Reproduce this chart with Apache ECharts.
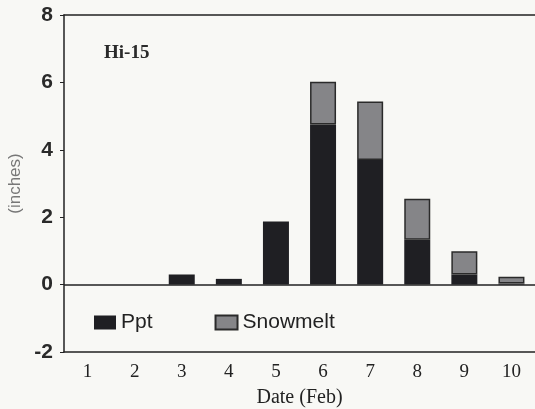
<!DOCTYPE html>
<html>
<head>
<meta charset="utf-8">
<script src="https://cdn.jsdelivr.net/npm/echarts@6/dist/echarts.min.js"></script>
<style>
  html, body { margin: 0; padding: 0; background: #f8f8f5; }
  #chart { width: 535px; height: 409px; }
</style>
</head>
<body>
<div id="chart"></div>
<script>
// values (inches), null = nothing drawn
const days = ['1', '2', '3', '4', '5', '6', '7', '8', '9', '10']
const ppt = [null, null, 0.3, 0.17, 1.87, 4.75, 3.7, 1.33, 0.3, 0.03]
const snowmelt = [null, null, null, null, null, 1.27, 1.73, 1.22, 0.69, 0.2]
const yTicks = { min: -2, max: 8, interval: 2 }

const chart = echarts.init(document.getElementById('chart'))

const option = {
  backgroundColor: '#f8f8f5',
  animation: false,
  grid: {
    left: 64,
    right: 0,
    top: 15,
    bottom: 57,
    outerBoundsMode: 'none'
  },
  legend: {
    data: ['Ppt', 'Snowmelt'],
    left: 89,
    top: 307,
    icon: 'rect',
    itemWidth: 22,
    itemHeight: 14,
    itemGap: 62,
    textStyle: {
      fontFamily: 'Liberation Sans',
      fontSize: 21,
      color: '#222'
    }
  },
  graphic: [
    {
      type: 'text',
      left: 104,
      top: 44,
      style: {
        text: 'Hi-15',
        font: 'bold 19px "Liberation Serif"',
        fill: '#2a2a2a'
      }
    }
  ],
  xAxis: [
    {
      type: 'category',
      data: days,
      position: 'bottom',
      name: 'Date (Feb)',
      nameLocation: 'middle',
      nameGap: 36,
      nameTextStyle: {
        fontFamily: 'Liberation Serif',
        fontSize: 20,
        color: '#222'
      },
      axisLine: { onZero: false, lineStyle: { color: '#222', width: 1.5 } },
      axisTick: { inside: true, length: 4, lineStyle: { color: '#222' } },
      axisLabel: {
        fontFamily: 'Liberation Serif',
        fontSize: 19,
        color: '#222',
        margin: 11
      }
    },
    {
      type: 'category',
      data: days,
      position: 'top',
      axisLine: { onZero: false, lineStyle: { color: '#222', width: 1.5 } },
      axisTick: { show: false },
      axisLabel: { show: false }
    }
  ],
  yAxis: {
    type: 'value',
    min: yTicks.min,
    max: yTicks.max,
    interval: yTicks.interval,
    name: '(inches)',
    nameLocation: 'middle',
    nameRotate: 90,
    nameGap: 38,
    nameTextStyle: {
      fontFamily: 'Liberation Sans',
      fontSize: 17,
      color: '#777'
    },
    axisLine: { show: true, lineStyle: { color: '#222', width: 1.5 } },
    axisTick: { show: true, length: 4, lineStyle: { color: '#222' } },
    axisLabel: {
      fontFamily: 'Liberation Sans',
      fontWeight: 'bold',
      fontSize: 21,
      color: '#2a2a2a',
      margin: 11
    },
    splitLine: { show: false }
  },
  series: [
    {
      name: 'Ppt',
      type: 'bar',
      stack: 'water',
      data: ppt,
      barWidth: 26,
      itemStyle: {
        color: '#1f1f23'
      },
      markLine: {
        silent: true,
        symbol: 'none',
        label: { show: false },
        lineStyle: { color: '#222', width: 1.5, type: 'solid' },
        data: [{ yAxis: 0 }]
      }
    },
    {
      name: 'Snowmelt',
      type: 'bar',
      stack: 'water',
      data: snowmelt,
      barWidth: 26,
      itemStyle: {
        color: '#858588',
        borderColor: '#2a2a2a',
        borderWidth: 1.5
      }
    }
  ]
}

chart.setOption(option)
</script>
</body>
</html>
